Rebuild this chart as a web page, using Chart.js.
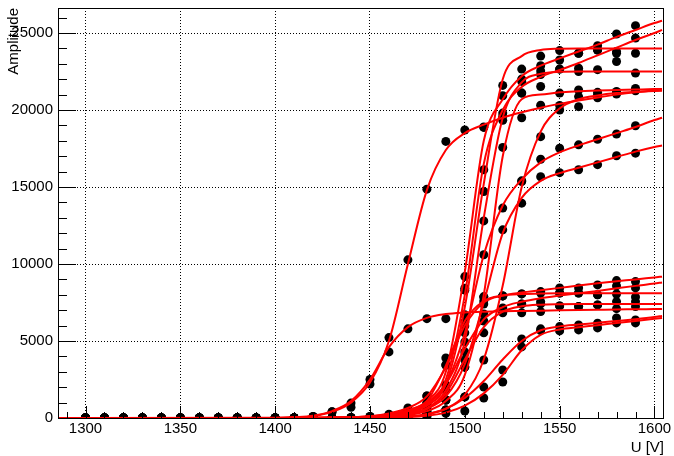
<!DOCTYPE html>
<html>
<head>
<meta charset="utf-8">
<script src="https://cdn.jsdelivr.net/npm/chart.js@4.4.1/dist/chart.umd.min.js"></script>
<style>
  body { margin: 0; background: #fff; }
  #c { display: block; }
</style>
</head>
<body>
<canvas id="c" width="674" height="456"></canvas>
<script>
// HV scan: measured amplitudes (black dots) and fitted curves (red)
const U_PTS = [1300, 1310, 1320, 1330, 1340, 1350, 1360, 1370, 1380, 1390, 1400, 1410, 1420,
  1430, 1440, 1450, 1460, 1470, 1480, 1490, 1500, 1510, 1520, 1530, 1540, 1550, 1560, 1570, 1580, 1590];
const U_FIT = [1286, 1400, 1410, 1420, 1430, 1440, 1450, 1460, 1470, 1480, 1490, 1500,
  1510, 1520, 1530, 1540, 1550, 1560, 1570, 1580, 1590, 1600, 1604];
const X_TICKS = [1300, 1350, 1400, 1450, 1500, 1550, 1600];
const Y_TICKS = [0, 5000, 10000, 15000, 20000, 25000];

const ptsE1 = [0,0,0,0,0,0,0,0,0,0,0,0,100, 400,700,2500,5220,10270,14860,17960,18700,18900,19330,19500,20310,20300,20220,20800,21040,21320];
const fitE1 = [0,0,30,120,400,1000,2300,5000,10000,14800,17400,18500,19050,19500,19850,20150,20400,20620,20820,21000,21150,21270,21300];
const ptsE2 = [0,0,0,0,0,0,0,0,0,0,0,0,100, 410,970,2200,4290,5790,6450,6450,6700,6760,6900,6830,6910,7280,7235,7345,7100,7235];
const fitE2 = [0,20,60,150,450,1100,2500,4600,5900,6500,6750,6850,6900,6930,6950,6970,6990,7010,7030,7050,7060,7075,7080];

const ptsT1 = [0,0,0,0,0,0,0,0,0,0,0,0,0, 0,0,100,200,450,1430,3440,9185,18870,20930,22010,22880,23250,23690,24180,24940,25480];
const fitT1 = [0,0,0,10,30,60,120,250,500,1100,3000,9500,18000,20700,22200,22880,23350,23800,24250,24750,25200,25650,25800];
const ptsT2 = [0,0,0,0,0,0,0,0,0,0,0,0,0, 0,0,50,150,350,910,2150,8430,16120,19800,21100,22540,22660,22710,23900,23800,24670];
const fitT2 = [0,0,0,10,20,50,100,200,400,900,2500,8000,16500,20000,21500,22150,22600,23050,23550,24050,24550,25000,25200];
const ptsT3 = [0,0,0,0,0,0,0,0,0,0,0,0,0, 0,0,0,100,300,700,1820,8300,14710,21600,22660,23500,23860,23690,23900,23690,23690];
const fitT3 = [0,0,0,0,10,30,70,150,350,800,2200,7200,15200,22000,23500,23900,23980,24000,24000,24000,24000,24000,24000];
const ptsT4 = [0,0,0,0,0,0,0,0,0,0,0,0,0, 0,0,0,50,100,400,1170,4940,12800,19600,21860,22300,22660,22500,22620,23150,22400];
const fitT4 = [0,0,0,0,0,20,50,120,280,650,1800,5000,13000,19500,21800,22350,22480,22500,22500,22500,22500,22500,22500];
const ptsT5 = [0,0,0,0,0,0,0,0,0,0,0,0,0, 0,0,0,0,0,100,520,1370,3770,7930,15400,18270,20000,20870,21000,21100,21250];
const fitT5 = [0,0,0,0,0,0,10,40,100,250,600,1500,3800,8600,15000,18600,20100,20700,20950,21100,21180,21230,21250];
const ptsT6 = [0,0,0,0,0,0,0,0,0,0,0,0,0, 0,0,0,0,100,300,520,3310,7870,17570,21100,21530,21100,21300,21150,21200,21400];
const fitT6 = [0,0,0,0,0,10,30,80,200,450,1100,2800,8000,17000,20700,21000,21150,21220,21270,21300,21330,21360,21370];
const ptsT7 = [0,0,0,0,0,0,0,0,0,0,0,0,0, 0,0,0,50,150,400,1820,5530,10600,13630,15360,16800,17520,17740,18100,18440,18980];
const fitT7 = [0,0,0,0,10,30,80,180,400,900,2200,5500,10600,13800,15500,16600,17250,17700,18100,18500,18900,19350,19500];
const ptsT8 = [0,0,0,0,0,0,0,0,0,0,0,0,0, 0,0,0,0,100,300,1170,3770,7400,12220,13950,15670,15930,16120,16450,17030,17200];
const fitT8 = [0,0,0,0,0,20,50,120,280,600,1400,3500,7500,12000,14300,15400,15900,16250,16600,16950,17300,17600,17700];

const ptsLa = [0,0,0,0,0,0,0,0,0,0,0,0,0, 0,50,100,250,650,1430,3440,5980,7870,7930,8060,8210,8450,8450,8645,8925,8860];
const fitLa = [0,0,0,10,20,50,120,300,650,1400,3300,6000,7500,7950,8150,8300,8450,8600,8750,8880,9000,9130,9180];
const ptsLb = [0,0,0,0,0,0,0,0,0,0,0,0,0, 0,0,50,200,500,910,1820,4290,6300,7150,7410,7560,8120,8120,8000,8580,8450];
const fitLb = [0,0,0,0,20,40,80,200,500,1000,2200,4500,6400,7200,7550,7780,7950,8100,8250,8420,8580,8730,8800];
const ptsLc = [0,0,0,0,0,0,0,0,0,0,0,0,0, 0,0,0,100,350,1000,3900,6240,7600,7930,8060,8120,8120,8120,8000,8050,7865];
const fitLc = [0,0,0,0,10,30,60,130,350,1100,3400,6300,7600,7950,8050,8090,8100,8100,8100,8100,8100,8100,8100];
const ptsLd = [0,0,0,0,0,0,0,0,0,0,0,0,0, 0,0,0,50,200,500,1170,3310,5530,6830,7410,7410,7280,7235,7345,7560,7560];
const fitLd = [0,0,0,0,0,20,40,60,200,600,1600,3800,5900,6900,7250,7360,7390,7400,7400,7400,7400,7400,7400];
const ptsLe = [0,0,0,0,0,0,0,0,0,0,0,0,0, 0,0,0,0,100,250,520,1370,2015,3120,5135,5790,5935,6045,6155,6500,6370];
const fitLe = [0,0,0,0,0,10,20,40,100,250,600,1300,2400,3800,5000,5700,5950,6070,6180,6300,6420,6560,6630];
const ptsLf = [0,0,0,0,0,0,0,0,0,0,0,0,0, 0,0,0,0,0,150,300,455,1300,2340,4615,5675,5655,5720,5850,6175,6175];
const fitLf = [0,0,0,0,0,0,10,30,60,150,350,800,1600,2800,4400,5400,5750,5900,6030,6170,6300,6440,6500];

const SERIES = [
  [ptsE1, fitE1], [ptsE2, fitE2],
  [ptsT1, fitT1], [ptsT2, fitT2], [ptsT3, fitT3], [ptsT4, fitT4],
  [ptsT5, fitT5], [ptsT6, fitT6], [ptsT7, fitT7], [ptsT8, fitT8],
  [ptsLa, fitLa], [ptsLb, fitLb], [ptsLc, fitLc], [ptsLd, fitLd], [ptsLe, fitLe], [ptsLf, fitLf]
];

const FONT = 'Liberation Sans, Arial, Helvetica, sans-serif';

const datasets = [];
SERIES.forEach(s => {
  datasets.push({
    data: s[0].map((v, i) => ({ x: U_PTS[i], y: v })),
    showLine: false,
    pointRadius: 4.5,
    pointBackgroundColor: '#000',
    pointBorderWidth: 0,
    order: 2
  });
  datasets.push({
    data: s[1].map((v, i) => ({ x: U_FIT[i], y: v })),
    showLine: true,
    borderColor: '#ff0000',
    borderWidth: 2,
    pointRadius: 0,
    cubicInterpolationMode: 'monotone',
    order: 1
  });
});

// ROOT style frame with ticks drawn inside, plus the x title
const frame = {
  id: 'frame',
  afterDatasetsDraw(chart) {
    const { ctx, chartArea: a, scales: { x, y } } = chart;
    ctx.save();
    ctx.strokeStyle = '#000';
    ctx.lineWidth = 1;
    ctx.beginPath();
    for (let v = 1290; v <= 1600; v += 10) {
      const px = Math.round(x.getPixelForValue(v)) + 0.5;
      const len = v % 50 === 0 ? 12 : 6;
      ctx.moveTo(px, a.bottom);
      ctx.lineTo(px, a.bottom - len);
    }
    for (let v = 0; v <= 26000; v += 1000) {
      const py = Math.round(y.getPixelForValue(v)) + 0.5;
      const len = v % 5000 === 0 ? 18 : 9;
      ctx.moveTo(a.left, py);
      ctx.lineTo(a.left + len, py);
    }
    ctx.stroke();
    ctx.strokeRect(a.left + 0.5, a.top + 0.5, a.right - a.left, a.bottom - a.top);
    ctx.fillStyle = '#000';
    ctx.font = '15px ' + FONT;
    ctx.textAlign = 'right';
    ctx.textBaseline = 'alphabetic';
    ctx.fillText('U [V]', a.right + 1, 452);
    ctx.restore();
  }
};

new Chart(document.getElementById('c'), {
  type: 'scatter',
  data: { datasets },
  plugins: [frame],
  options: {
    responsive: false,
    animation: false,
    devicePixelRatio: 1,
    layout: { padding: { top: 8, right: 11, left: 0, bottom: 0 } },
    plugins: { legend: { display: false }, tooltip: { enabled: false } },
    scales: {
      x: {
        type: 'linear',
        min: 1285.5,
        max: 1604.5,
        afterBuildTicks: s => { s.ticks = X_TICKS.map(v => ({ value: v })); },
        afterFit: s => { s.height = 38; s.paddingLeft = 0; s.paddingRight = 0; },
        ticks: { color: '#000', font: { family: FONT, size: 15 }, padding: 2, maxRotation: 0,
          callback: v => String(v) },
        grid: { color: '#000', lineWidth: 1, drawTicks: false },
        border: { display: true, color: '#000', dash: [1, 2] }
      },
      y: {
        type: 'linear',
        min: 0,
        max: 26625,
        afterBuildTicks: s => { s.ticks = Y_TICKS.map(v => ({ value: v })); },
        afterFit: s => { s.width = 58; s.paddingTop = 0; s.paddingBottom = 0; },
        ticks: { color: '#000', font: { family: FONT, size: 15 }, padding: 5,
          callback: v => String(v) },
        grid: { color: '#000', lineWidth: 1, drawTicks: false },
        border: { display: true, color: '#000', dash: [1, 2] },
        title: { display: true, text: 'Amplitude', align: 'end', color: '#000',
          font: { family: FONT, size: 15 }, padding: { top: 5, bottom: 0 } }
      }
    }
  }
});
</script>
</body>
</html>
